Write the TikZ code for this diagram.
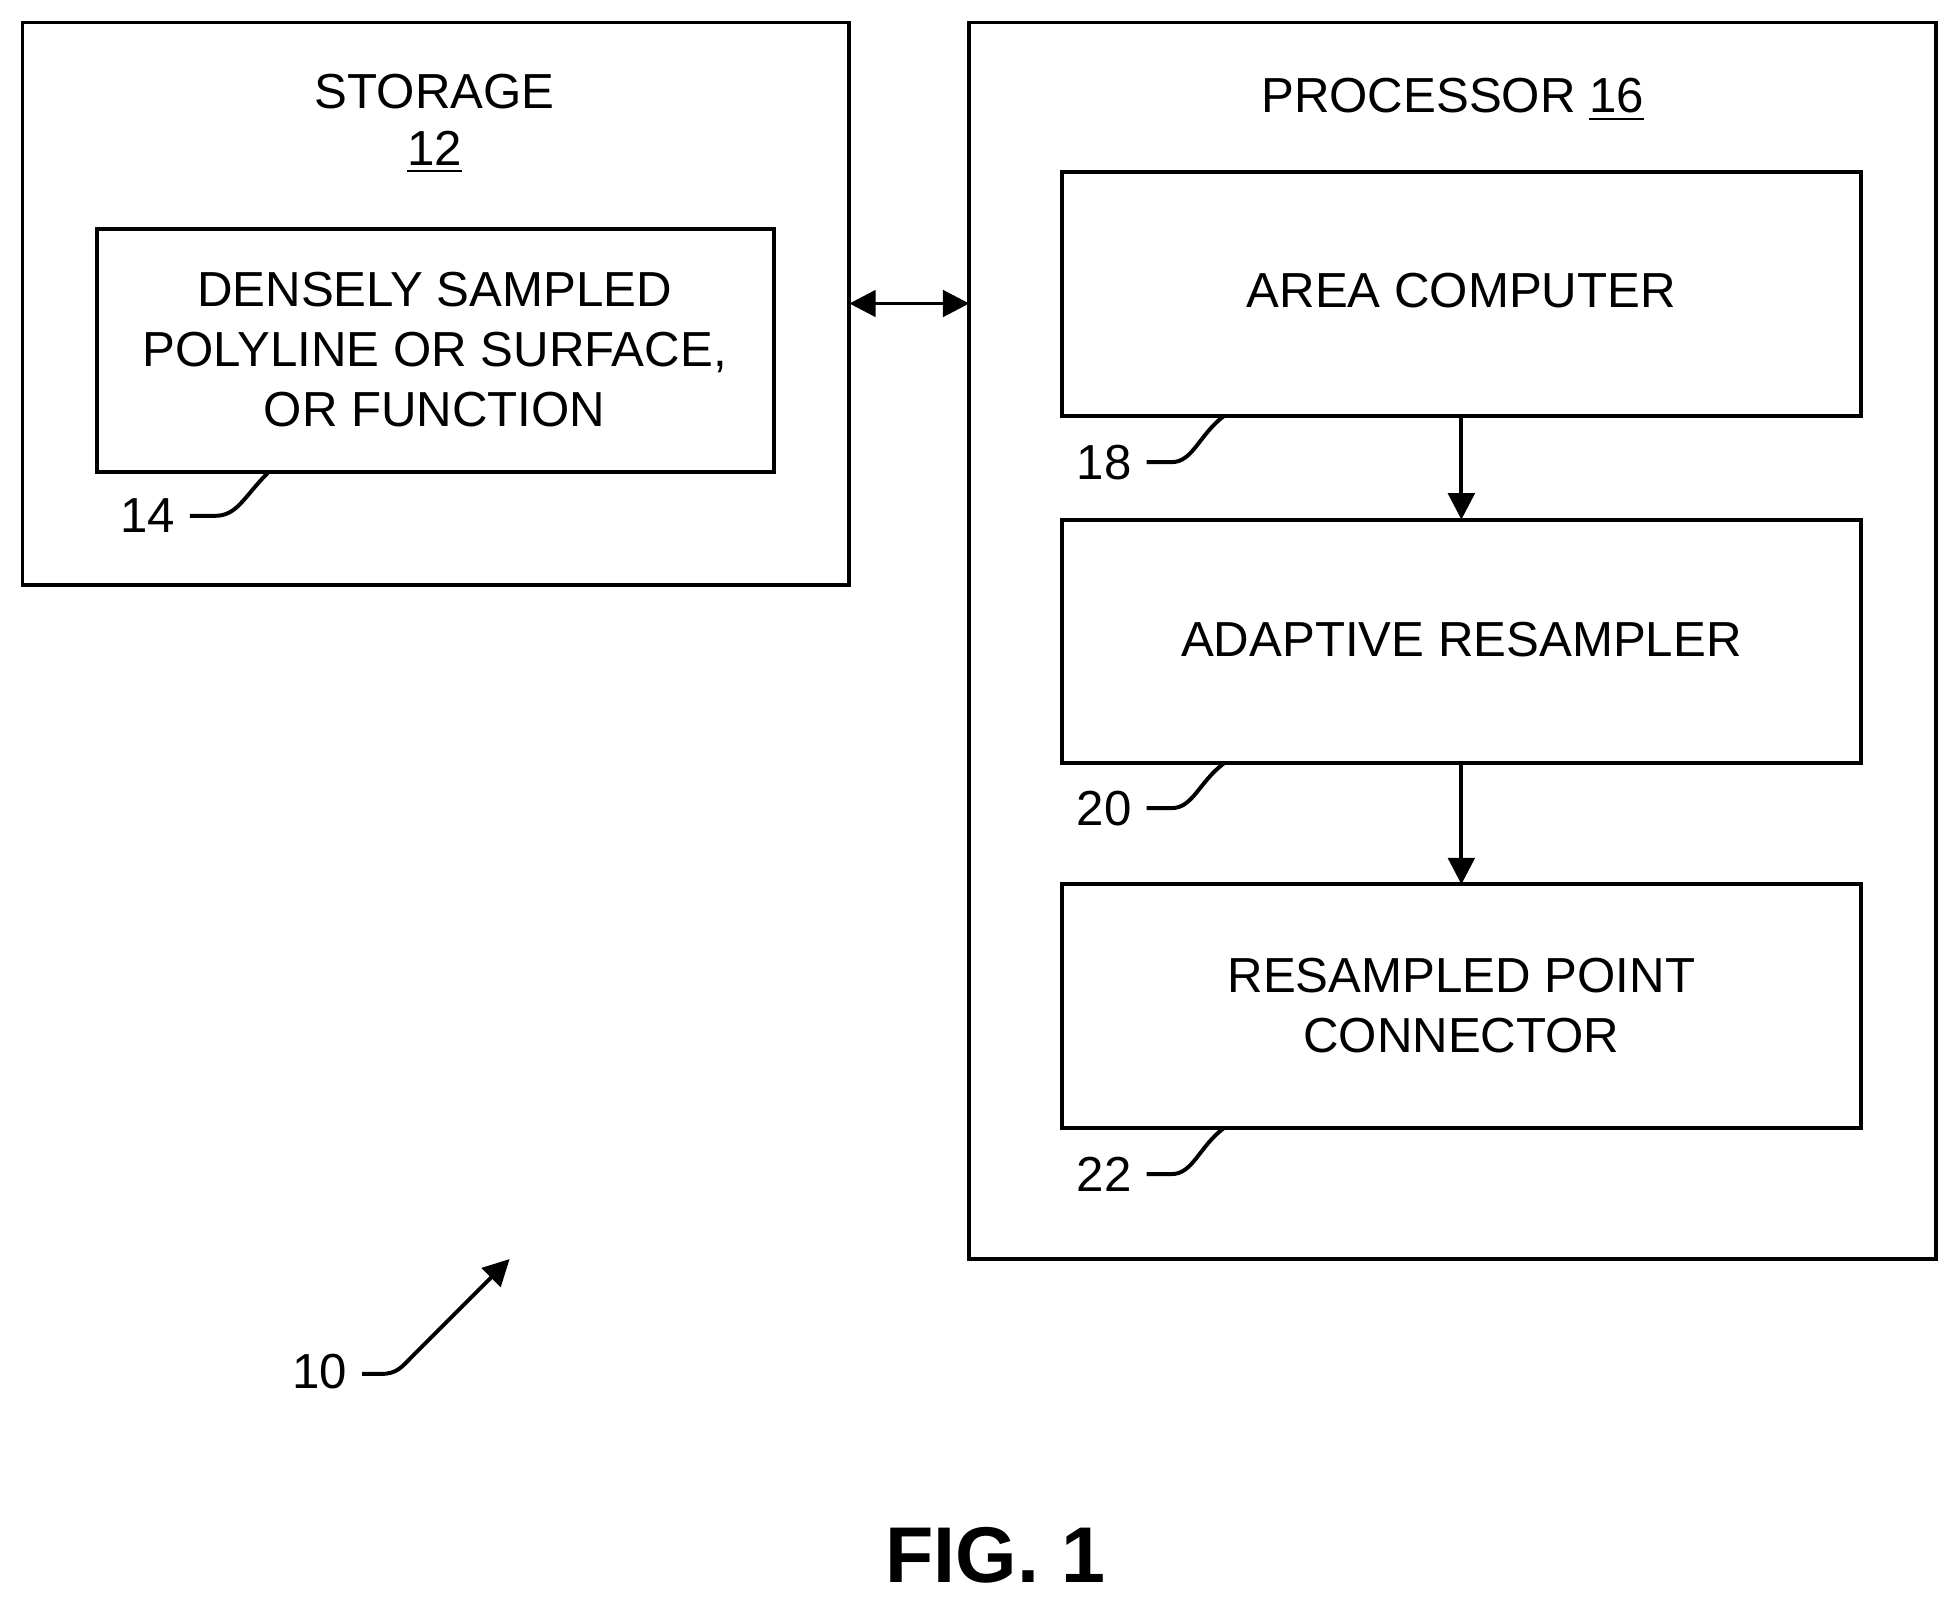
\documentclass[tikz,border=0pt]{standalone}
\usepackage{fontspec}
\setmainfont{Liberation Sans}
\usetikzlibrary{arrows.meta}
\begin{document}
\begin{tikzpicture}[x=0.01cm,y=-0.01cm,
  box/.style={draw,line width=0.9pt},
  txt/.style={font=\fontsize{11.2}{13.6}\selectfont,align=center},
  lead/.style={line width=0.9pt},
  arr/.style={line width=0.9pt,-{Triangle[length=6pt,width=6pt]}}]
\useasboundingbox (0,0) rectangle (1566,1282);
\draw[box] (18,18) rectangle (680,468);
\node[txt] (st) at (348,73) {STORAGE};
\node[txt] (st12) at (348,122) {\underline{12}};
\draw[box] (78,183) rectangle (620,378);
\coordinate (b14s) at (215,378);
\node[txt] (t14) at (348,280) {DENSELY SAMPLED\\POLYLINE OR SURFACE,\\OR FUNCTION};
\node[txt] (l14) at (118,413) {14};
\draw[lead] (152,413) -- (172,413) .. controls (190,413) and (195,398) .. (b14s);

\draw[box] (776,18) rectangle (1550,1008);
\node[txt] (pr) at (1163,80) {PROCESSOR \underline{16}};
\draw[box] (850,138) rectangle (1490,333);
\node[txt] (a) at (1170,233) {AREA COMPUTER};
\draw[box] (850,416) rectangle (1490,611);
\node[txt] (r) at (1170,512) {ADAPTIVE RESAMPLER};
\draw[box] (850,708) rectangle (1490,903);
\node[txt] (c) at (1170,805) {RESAMPLED POINT\\CONNECTOR};
\coordinate (a1) at (1170,333); \coordinate (a2) at (1170,416);
\coordinate (a3) at (1170,611); \coordinate (a4) at (1170,708);
\draw[arr] (a1) -- (a2);
\draw[arr] (a3) -- (a4);
\coordinate (d1) at (680,243); \coordinate (d2) at (776,243);
\draw[line width=0.9pt,{Triangle[length=6pt,width=6pt]}-{Triangle[length=6pt,width=6pt]}] (d1) -- (d2);

\foreach \n/\y/\t in {18/333/370,20/611/647,22/903/940}{
  \node[txt] (l\n) at (884,\t) {\n};
  \draw[lead] (918,\t) -- (938,\t) .. controls (955,\t) and (960,\y+15) .. (980,\y);
}
\node[txt] (l10) at (256,1098) {10};
\coordinate (t10) at (408,1008);
\draw[arr] (290,1100) -- (305,1100) .. controls (318,1100) and (322,1094) .. (330,1086) -- (t10);
\node[font=\fontsize{18}{20}\selectfont\bfseries] (fig) at (797,1245) {FIG. 1};
\end{tikzpicture}
\end{document}
